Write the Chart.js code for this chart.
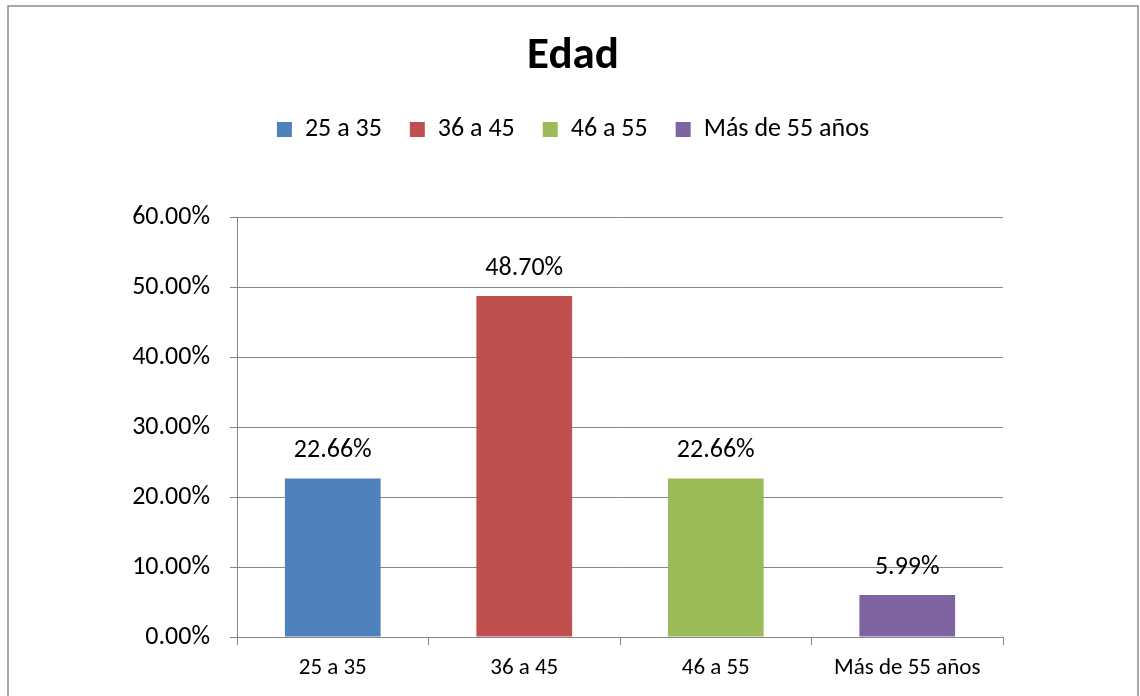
<!DOCTYPE html>
<html>
<head>
<meta charset="utf-8">
<script src="https://cdn.jsdelivr.net/npm/chart.js@4/dist/chart.umd.min.js"></script>
<style>
  body { margin: 0; background: #fff; }
  #wrap { width: 1140px; height: 696px; }
</style>
</head>
<body>
<div id="wrap"><canvas id="barChart" width="1140" height="696"></canvas></div>
<script>
// chart data
const chartTitle = 'Edad';
const categories = ['25 a 35', '36 a 45', '46 a 55', 'Más de 55 años'];
const percentValues = [22.66, 48.70, 22.66, 5.99];
const barColors = ['#4F81BD', '#C0504D', '#9BBB59', '#8064A2'];
const yTicks = [0, 10, 20, 30, 40, 50, 60];

const fontFamily = 'Carlito, Calibri, Lato, sans-serif';
const gridColor = '#878787';
const fmtPct = (v) => Number(v).toFixed(2) + '%';

// white background + outer frame
const framePlugin = {
  id: 'frame',
  beforeDraw(chart) {
    const ctx = chart.ctx;
    ctx.save();
    ctx.fillStyle = '#fff';
    ctx.fillRect(0, 0, chart.width, chart.height);
    ctx.strokeStyle = '#8a8a8a';
    ctx.lineWidth = 1.5;
    ctx.strokeRect(8, 6, 1130, 700);
    ctx.restore();
  }
};

// value labels above bars
const valueLabels = {
  id: 'valueLabels',
  afterDatasetsDraw(chart) {
    const ctx = chart.ctx;
    const meta = chart.getDatasetMeta(0);
    ctx.save();
    ctx.font = '26px ' + fontFamily;
    ctx.fillStyle = '#000';
    ctx.textAlign = 'center';
    ctx.textBaseline = 'middle';
    meta.data.forEach((bar, i) => {
      ctx.fillText(fmtPct(chart.data.datasets[0].data[i]), bar.x, bar.y - 28);
    });
    ctx.restore();
  }
};

const ctx = document.getElementById('barChart').getContext('2d');
new Chart(ctx, {
  type: 'bar',
  data: {
    labels: categories,
    datasets: [{
      label: chartTitle,
      data: percentValues,
      backgroundColor: barColors,
      borderWidth: 0,
      categoryPercentage: 1.0,
      barPercentage: 0.5
    }]
  },
  options: {
    responsive: false,
    animation: false,
    layout: { padding: { left: 8, right: 2, top: 0, bottom: 0 } },
    plugins: {
      title: {
        display: true,
        text: chartTitle,
        color: '#000',
        font: { family: fontFamily, size: 45, weight: 'bold', lineHeight: 1.2 },
        padding: { top: 30, bottom: 4.5 }
      },
      subtitle: {
        display: true,
        text: ' ',
        weight: 500,
        font: { size: 10, lineHeight: 1 },
        padding: { top: 54.5, bottom: 0 }
      },
      legend: {
        display: true,
        position: 'top',
        labels: {
          color: '#000',
          font: { family: fontFamily, size: 26 },
          boxWidth: 15,
          boxHeight: 15,
          padding: 28,
          generateLabels: (chart) => categories.map((c, i) => ({
            text: c,
            fillStyle: barColors[i],
            strokeStyle: barColors[i],
            lineWidth: 0,
            hidden: false,
            index: i
          }))
        }
      },
      tooltip: { enabled: false }
    },
    scales: {
      x: {
        grid: {
          display: true,
          drawOnChartArea: false,
          drawTicks: true,
          tickLength: 8,
          color: gridColor,
          offset: true
        },
        border: { display: true, color: gridColor, width: 1 },
        ticks: {
          color: '#000',
          font: { family: fontFamily, size: 23 },
          padding: 9,
          maxRotation: 0,
          autoSkip: false
        },
        afterFit: (scale) => { scale.height = 59; }
      },
      y: {
        min: 0,
        max: 60,
        afterBuildTicks: (scale) => { scale.ticks = yTicks.map(v => ({ value: v })); },
        grid: { color: gridColor, lineWidth: 1, tickLength: 7 },
        border: { display: true, color: gridColor, width: 1 },
        ticks: {
          color: '#000',
          font: { family: fontFamily, size: 26 },
          padding: 20,
          callback: (v) => fmtPct(v)
        },
        afterFit: (scale) => { scale.width = 229; }
      },
      spacer: {
        type: 'linear',
        position: 'right',
        display: true,
        grid: { display: false },
        border: { display: false },
        ticks: { display: false },
        afterFit: (scale) => { scale.width = 135; }
      }
    }
  },
  plugins: [framePlugin, valueLabels]
});
</script>
</body>
</html>
